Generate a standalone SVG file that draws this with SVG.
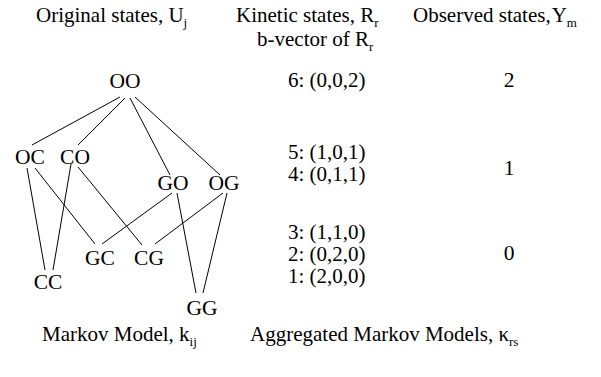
<svg xmlns="http://www.w3.org/2000/svg" width="601" height="377" viewBox="0 0 601 377">
<style>
text{font-family:"Liberation Serif","Times New Roman",serif;font-size:21px;fill:#000}
.n{text-anchor:middle;font-size:21.5px}
.k{font-size:21px}
.s{font-size:13px}
line{stroke:#000;stroke-width:1}
</style>
<rect width="601" height="377" fill="#fff"/>
<g id="headers">
<text x="36" y="22">Original states, U<tspan class="s" dy="5">j</tspan></text>
<text x="236" y="22">Kinetic states, R<tspan class="s" dy="5">r</tspan></text>
<text x="257" y="46">b-vector of R<tspan class="s" dy="5">r</tspan></text>
<text x="413" y="22">Observed states,<tspan dx="1">Y</tspan><tspan class="s" dy="5">m</tspan></text>
</g>
<g id="connectors">
<line x1="120" y1="97" x2="32" y2="145"/>
<line x1="125" y1="98" x2="78" y2="145"/>
<line x1="130" y1="98" x2="170" y2="175"/>
<line x1="135" y1="97" x2="220" y2="175"/>
<line x1="27" y1="168" x2="45" y2="270"/>
<line x1="35" y1="168" x2="95" y2="244"/>
<line x1="71" y1="164" x2="53" y2="270"/>
<line x1="78" y1="167" x2="142" y2="245"/>
<line x1="172" y1="193" x2="102" y2="244"/>
<line x1="177" y1="193" x2="196" y2="293"/>
<line x1="223" y1="193" x2="155" y2="244"/>
<line x1="227" y1="193" x2="203" y2="293"/>
</g>
<g id="OO"><text class="n" x="125" y="88">OO</text></g>
<g id="OC"><text class="n" x="30" y="164">OC</text></g>
<g id="CO"><text class="n" x="75" y="164">CO</text></g>
<g id="GO"><text class="n" x="173" y="190">GO</text></g>
<g id="OG"><text class="n" x="224" y="190">OG</text></g>
<g id="GC"><text class="n" x="100" y="265">GC</text></g>
<g id="CG"><text class="n" x="149" y="265">CG</text></g>
<g id="CC"><text class="n" x="48" y="289">CC</text></g>
<g id="GG"><text class="n" x="202" y="315">GG</text></g>
<g id="kinetic">
<text class="k" x="288" y="87">6: (0,0,2)</text>
<text class="k" x="288" y="159">5: (1,0,1)</text>
<text class="k" x="288" y="181">4: (0,1,1)</text>
<text class="k" x="288" y="239">3: (1,1,0)</text>
<text class="k" x="288" y="261">2: (0,2,0)</text>
<text class="k" x="288" y="283">1: (2,0,0)</text>
</g>
<g id="observed">
<text class="n" x="509" y="87">2</text>
<text class="n" x="509" y="175">1</text>
<text class="n" x="509" y="260">0</text>
</g>
<g id="footers">
<text x="42" y="341">Markov Model, k<tspan class="s" dy="5">ij</tspan></text>
<text x="250" y="341">Aggregated Markov Models, κ<tspan class="s" dy="5">rs</tspan></text>
</g>
</svg>
